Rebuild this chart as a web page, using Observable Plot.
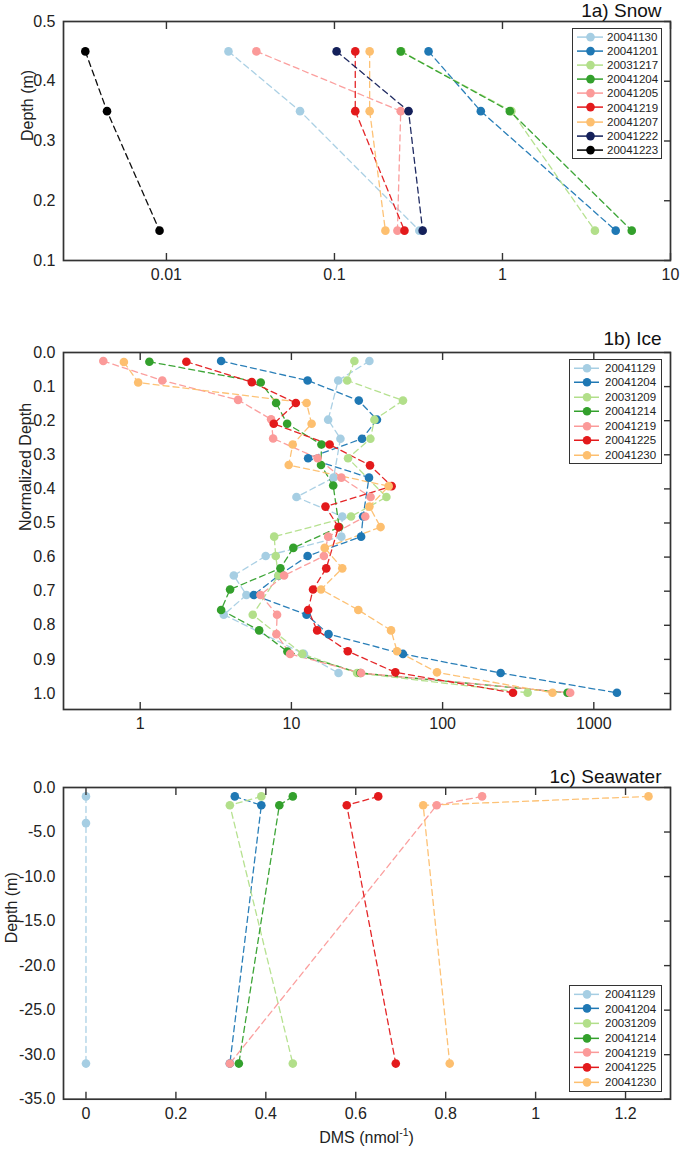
<!DOCTYPE html>
<html><head><meta charset="utf-8">
<script src="https://cdn.jsdelivr.net/npm/d3@7"></script>
<script src="https://cdn.jsdelivr.net/npm/@observablehq/plot@0.6"></script>
<style>
body{margin:0;background:#fff;font-family:"Liberation Sans",Arial,sans-serif;}
#wrap{position:relative;width:681px;height:1150px;overflow:hidden;}
.panel{position:absolute;left:0;}
.legend{position:absolute;border:1.5px solid #333;background:#fff;box-sizing:border-box;}
.row{position:relative;}
.row svg{position:absolute;left:0;top:0;}
.row span{position:absolute;font-size:11.5px;color:#222;white-space:nowrap;}
.xlab{position:absolute;font-size:16px;color:#222;transform:translateX(-50%);white-space:nowrap;}
.xlab sup{font-size:10.5px;vertical-align:7px;line-height:0;}
</style></head><body><div id="wrap"></div><script>
// ---------- 1a) Snow ----------
const snowDates = ["20041130","20041201","20031217","20041204","20041205","20041219","20041207","20041222","20041223"];
const snowColors = ["#a6cee3","#1f78b4","#b2df8a","#33a02c","#fb9a99","#e31a1c","#fdbf6f","#14205a","#000000"];
const snowDepth = [0.45, 0.35, 0.15];
const snowDMS = [
  [0.0234, 0.0624, 0.32],
  [0.363, 0.743, 4.72],
  [0.25, 1.13, 3.55],
  [0.248, 1.106, 5.88],
  [0.0343, 0.248, 0.237],
  [0.133, 0.133, 0.261],
  [0.162, 0.162, 0.201],
  [0.103, 0.276, 0.335],
  [0.00329, 0.00443, 0.0091]
];
const snowXTicks = [0.01, 0.1, 1, 10];
const snowYTicks = [0.1, 0.2, 0.3, 0.4, 0.5];

// ---------- 1b) Ice ----------
const iceDates = ["20041129","20041204","20031209","20041214","20041219","20041225","20041230"];
const iceColors = ["#a6cee3","#1f78b4","#b2df8a","#33a02c","#fb9a99","#e31a1c","#fdbf6f"];
const iceDepth = [
  [0.025,0.082,0.197,0.253,0.367,0.424,0.481,0.54,0.597,0.654,0.711,0.769,0.884,0.94],
  [0.025,0.082,0.141,0.197,0.253,0.31,0.367,0.481,0.54,0.597,0.654,0.711,0.769,0.826,0.884,0.94,0.998],
  [0.025,0.082,0.141,0.197,0.253,0.31,0.424,0.481,0.54,0.597,0.654,0.769,0.884,0.94,0.998],
  [0.027,0.088,0.148,0.209,0.27,0.33,0.39,0.512,0.573,0.633,0.695,0.755,0.815,0.877,0.94,0.998],
  [0.025,0.082,0.139,0.196,0.252,0.31,0.367,0.424,0.481,0.54,0.597,0.654,0.711,0.769,0.826,0.884,0.94,0.998],
  [0.027,0.087,0.148,0.209,0.27,0.331,0.392,0.452,0.512,0.633,0.695,0.755,0.815,0.876,0.938,0.998],
  [0.028,0.088,0.148,0.209,0.27,0.33,0.392,0.452,0.512,0.573,0.633,0.695,0.755,0.815,0.876,0.938,0.998]
];
const iceDMS = [
  [32.8,20.4,17.5,21.1,19.0,10.8,21.7,21.4,6.76,4.16,5.04,3.57,12.1,20.5],
  [3.43,12.8,27.9,36.8,29.3,12.9,32.6,29.8,28.9,12.8,8.24,5.64,12.6,17.6,54.7,242,1422],
  [26.1,23.4,54.7,35.4,33.3,23.7,42.5,24.8,7.69,7.88,8.2,5.55,11.8,27.2,365],
  [1.15,6.27,7.92,9.37,15.8,15.7,18.9,20.7,10.3,8.46,3.93,3.43,6.12,9.41,28.6,670],
  [0.57,1.40,4.44,7.34,7.57,14.9,21.4,33.4,30.8,17.5,16.4,8.95,6.24,8.04,7.96,9.8,28.9,698],
  [2.02,5.47,10.7,7.64,17.9,33.1,46,16.8,20.5,17.0,13.9,12.9,14.8,23.6,48.7,292],
  [0.78,0.97,12.6,13.6,10.2,9.6,44,32.8,38.9,16.6,21.7,15.7,27.7,45.6,50,91.8,533]
];
const iceXTicks = [1, 10, 100, 1000];
const iceYTicks = [0, 0.1, 0.2, 0.3, 0.4, 0.5, 0.6, 0.7, 0.8, 0.9, 1.0];

// ---------- 1c) Seawater ----------
const seaDates = ["20041129","20041204","20031209","20041214","20041219","20041225","20041230"];
const seaColors = ["#a6cee3","#1f78b4","#b2df8a","#33a02c","#fb9a99","#e31a1c","#fdbf6f"];
const seaDepth = [
  [-1,-4,-31],[-1,-2,-31],[-1,-2,-31],[-1,-2,-31],[-1,-2,-31],[-1,-2,-31],[-1,-2,-31]
];
const seaDMS = [
  [0, 0, 0],
  [0.331, 0.39, 0.32],
  [0.39, 0.32, 0.46],
  [0.46, 0.43, 0.34],
  [0.881, 0.78, 0.32],
  [0.65, 0.58, 0.689],
  [1.251, 0.75, 0.809]
];
const seaXTicks = [0, 0.2, 0.4, 0.6, 0.8, 1, 1.2];
const seaYTicks = [0, -5, -10, -15, -20, -25, -30, -35];

// ---------- helpers ----------
const FONT = "'Liberation Sans', Arial, Helvetica, sans-serif";
const INK = "#222";
const FRAME = "#333";

function rowsOf(dates, depths, values) {
  const rows = [];
  dates.forEach((date, i) => depths[i].forEach((d, j) => rows.push({date, depth: d, dms: values[i][j]})));
  return rows;
}

function panel(o) {
  return Plot.plot({
    width: 681, height: o.height,
    marginTop: o.marginTop, marginBottom: o.marginBottom, marginLeft: 63, marginRight: 11,
    style: {fontFamily: FONT, fontSize: "16px", color: INK, background: "transparent", overflow: "visible"},
    x: o.x,
    y: o.y,
    color: {domain: o.dates, range: o.colors},
    marks: [
      Plot.line(o.rows, {x: "dms", y: "depth", z: "date", stroke: "date", strokeWidth: 1.3, strokeDasharray: "6,4", strokeOpacity: 0.95}),
      Plot.dot(o.rows, {x: "dms", y: "depth", fill: "date", r: 4.3}),
      Plot.frame({stroke: FRAME, strokeWidth: 1.7}),
      Plot.axisX(o.xTicks, {anchor: "bottom", tickSize: 7, dy: -7, fill: "none", stroke: FRAME, strokeWidth: 1.4, label: null}),
      Plot.axisX(o.xTicks, {anchor: "top", tickSize: 7, dy: 7, fill: "none", stroke: FRAME, strokeWidth: 1.4, label: null}),
      Plot.axisY(o.yTicks, {anchor: "right", tickSize: 7, dx: -7, fill: "none", stroke: FRAME, strokeWidth: 1.4, label: null}),
      Plot.axisX(o.xTicks, {anchor: "bottom", tickSize: 0, tickPadding: 8, stroke: "none", fill: INK, fontSize: 16, tickFormat: o.xFmt, label: null}),
      Plot.axisY(o.yTicks, {anchor: "left", tickSize: 0, tickPadding: 8, stroke: "none", fill: INK, fontSize: 16, tickFormat: o.yFmt, label: null}),
      Plot.text([o.ylabel], {text: d => d, frameAnchor: "left", dx: o.ylabelDx, rotate: -90, lineAnchor: "middle", fontSize: 16, fill: INK}),
      Plot.text([o.title], {text: d => d, frameAnchor: "top-right", dx: -9, dy: o.titleDy, textAnchor: "end", lineAnchor: "middle", fontSize: 19, fill: "#111"})
    ]
  });
}

function legend(dates, colors, L) {
  const box = document.createElement("div");
  box.className = "legend";
  Object.assign(box.style, {left: L.left + "px", top: L.top + "px", width: L.width + "px", height: L.height + "px", paddingTop: L.pad + "px"});
  dates.forEach((d, i) => {
    const row = document.createElement("div");
    row.className = "row";
    row.style.height = L.rowH + "px";
    row.innerHTML =
      `<svg width="${L.width}" height="${L.rowH}"><line x1="${L.x1}" x2="${L.x2}" y1="${L.rowH/2}" y2="${L.rowH/2}" stroke="${colors[i]}" stroke-width="1.5"/>` +
      `<circle cx="${L.cx}" cy="${L.rowH/2}" r="4.3" fill="${colors[i]}"/></svg>` +
      `<span style="left:${L.tx}px;top:${L.rowH/2 - 7}px;line-height:14px">${d}</span>`;
    box.appendChild(row);
  });
  return box;
}

const wrap = document.getElementById("wrap");
function place(el, top) {
  const div = document.createElement("div");
  div.className = "panel";
  div.style.top = top + "px";
  div.appendChild(el);
  wrap.appendChild(div);
}

// Snow
place(panel({
  height: 290, marginTop: 21, marginBottom: 30,
  rows: rowsOf(snowDates, snowDates.map(() => snowDepth), snowDMS),
  dates: snowDates, colors: snowColors,
  x: {type: "log", domain: [0.00244, 10]},
  y: {domain: [0.1, 0.5]},
  xTicks: snowXTicks, yTicks: snowYTicks,
  xFmt: d => String(d), yFmt: d => d.toFixed(1),
  ylabel: "Depth (m)", ylabelDx: -36, title: "1a) Snow", titleDy: -11
}), 0);

// Ice
place(panel({
  height: 450, marginTop: 62, marginBottom: 31,
  rows: rowsOf(iceDates, iceDepth, iceDMS),
  dates: iceDates, colors: iceColors,
  x: {type: "log", domain: [0.311, 3215]},
  y: {domain: [1.047, 0]},
  xTicks: iceXTicks, yTicks: iceYTicks,
  xFmt: d => String(d), yFmt: d => d.toFixed(1),
  ylabel: "Normalized Depth", ylabelDx: -38, title: "1b) Ice", titleDy: -14
}), 290);

// Seawater
place(panel({
  height: 410, marginTop: 47, marginBottom: 51.3,
  rows: rowsOf(seaDates, seaDepth, seaDMS),
  dates: seaDates, colors: seaColors,
  x: {domain: [-0.05, 1.3]},
  y: {domain: [-35, 0]},
  xTicks: seaXTicks, yTicks: seaYTicks,
  xFmt: d => String(d), yFmt: d => d.toFixed(1),
  ylabel: "Depth (m)", ylabelDx: -52, title: "1c) Seawater", titleDy: -11
}), 740);

const xl = document.createElement("div");
xl.className = "xlab";
xl.style.left = "366.5px";
xl.style.top = "1129px";
xl.innerHTML = "DMS (nmol<sup>-1</sup>)";
wrap.appendChild(xl);

wrap.appendChild(legend(snowDates, snowColors, {left: 572, top: 28, width: 90, height: 131, rowH: 14.2, pad: 0.5, x1: 4, x2: 30, cx: 17.5, tx: 34}));
wrap.appendChild(legend(iceDates, iceColors, {left: 569, top: 359, width: 93, height: 105, rowH: 14.5, pad: 0.5, x1: 4, x2: 29, cx: 17, tx: 35}));
wrap.appendChild(legend(seaDates, seaColors, {left: 569, top: 985, width: 93, height: 107, rowH: 14.7, pad: 0.5, x1: 4, x2: 29, cx: 17, tx: 35}));
</script></body></html>
